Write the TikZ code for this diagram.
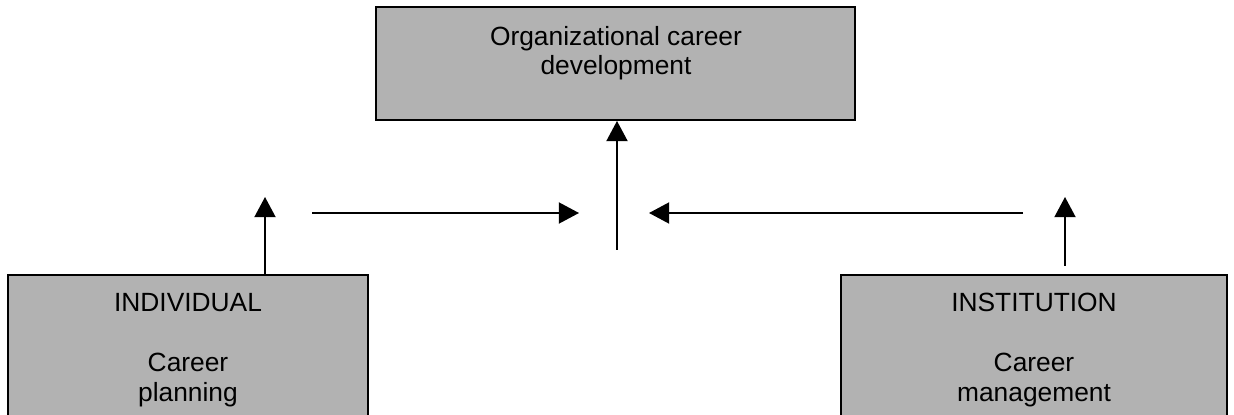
\documentclass[tikz,border=0pt]{standalone}
\usepackage{fontspec}
\setmainfont{Liberation Sans}
\usetikzlibrary{arrows.meta}

\begin{document}
\begin{tikzpicture}[x=0.02cm,y=-0.02cm]
% Colors define
\definecolor{boxGray}{HTML}{B2B2B2}

\tikzset{
  box/.style={draw,fill=boxGray,line width=1.1pt,inner sep=0},
  boxtext/.style={align=center,inner sep=0,anchor=base,
    font=\fontsize{15}{17}\selectfont},
  arr/.style={line width=1pt,-{Triangle[width=12pt,length=11.5pt]}}
}

% Page size
\useasboundingbox (0,0) rectangle (1234,415);
\clip (0,0) rectangle (1234,415);

% Boxes
\node[box,minimum width=9.58cm,minimum height=2.26cm] (org) at (615.5,63.5) {};
\node[box,minimum width=7.2cm,minimum height=3.3cm] (indiv) at (188,357.5) {};
\node[box,minimum width=7.72cm,minimum height=3.3cm] (inst) at (1034,357.5) {};

% Texts of the boxes (base = last line)
\node[boxtext] (orgtext) at (616,75) {Organizational career\\development};
\node[boxtext] (indivtext) at (188,401) {INDIVIDUAL\\ \\Career\\planning};
\node[boxtext] (insttext) at (1034,401) {INSTITUTION\\ \\Career\\management};

% Important positions
\coordinate (leftTop) at (265,197);
\coordinate (rightBottom) at (1065,266);
\coordinate (rightTop) at (1065,197);
\coordinate (midBottom) at (617,250);
\coordinate (hLeftA) at (312,213);
\coordinate (hLeftB) at (579,213);
\coordinate (hRightA) at (1023,213);
\coordinate (hRightB) at (649,213);

% Arrows
\draw[arr] (indiv.north -| leftTop) -- (leftTop);
\draw[arr] (rightBottom) -- (rightTop);
\draw[arr] (midBottom) -- (org.south -| midBottom);
\draw[arr] (hLeftA) -- (hLeftB);
\draw[arr] (hRightA) -- (hRightB);
\end{tikzpicture}
\end{document}
